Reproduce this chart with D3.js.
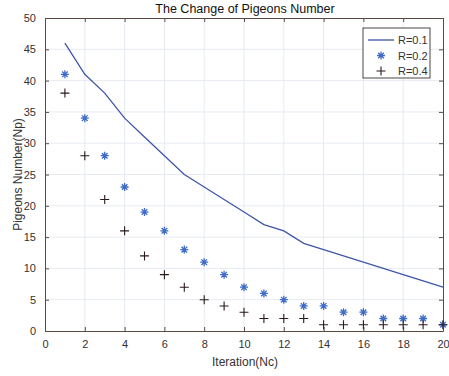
<!DOCTYPE html>
<html>
<head>
<meta charset="utf-8">
<script src="https://cdn.jsdelivr.net/npm/d3@7"></script>
<style>
  body { margin: 0; background: #fff; }
  text { font-family: "Liberation Sans", Arial, sans-serif; }
</style>
</head>
<body>
<svg id="chart" width="449" height="376"></svg>
<script>
const iterations = d3.range(1, 21);
const r01 = [46, 41, 38, 34, 31, 28, 25, 23, 21, 19, 17, 16, 14, 13, 12, 11, 10, 9, 8, 7];
const r02 = [41, 34, 28, 23, 19, 16, 13, 11, 9, 7, 6, 5, 4, 4, 3, 3, 2, 2, 2, 1];
const r04 = [38, 28, 21, 16, 12, 9, 7, 5, 4, 3, 2, 2, 2, 1, 1, 1, 1, 1, 1, 1];
const xTicks = d3.range(0, 21, 2);
const yTicks = d3.range(0, 51, 5);
const legendLabels = ['R=0.1', 'R=0.2', 'R=0.4'];

const svg = d3.select('#chart');
const margin = { top: 18, right: 6, bottom: 45, left: 45 };
const width = 449 - margin.left - margin.right;
const height = 376 - margin.top - margin.bottom;

const g = svg.append('g').attr('transform', `translate(${margin.left},${margin.top})`);

const x = d3.scaleLinear().domain([0, 20]).range([0, width]);
const y = d3.scaleLinear().domain([0, 50]).range([height, 0]);

const axisColor = '#5a4a46';
const textColor = '#333';

// grid
g.append('g').selectAll('line').data(xTicks.slice(1, -1)).enter().append('line')
  .attr('x1', d => x(d)).attr('x2', d => x(d)).attr('y1', 0).attr('y2', height)
  .attr('stroke', '#dfe6ee').attr('stroke-width', 0.8);
g.append('g').selectAll('line').data(yTicks.slice(1, -1)).enter().append('line')
  .attr('y1', d => y(d)).attr('y2', d => y(d)).attr('x1', 0).attr('x2', width)
  .attr('stroke', '#dfe6ee').attr('stroke-width', 0.8);

// axes, ticks inside
function styleAxis(sel) {
  sel.select('.domain').attr('stroke', axisColor);
  sel.selectAll('.tick line').attr('stroke', axisColor);
  sel.selectAll('text').attr('fill', textColor).style('font-size', '11px');
}
g.append('g').attr('transform', `translate(0,${height})`)
  .call(d3.axisBottom(x).tickValues(xTicks).tickSize(-4).tickSizeOuter(0).tickPadding(9))
  .call(styleAxis);
g.append('g')
  .call(d3.axisLeft(y).tickValues(yTicks).tickSize(-4).tickSizeOuter(0).tickPadding(9))
  .call(styleAxis);
g.append('g')
  .call(d3.axisTop(x).tickValues(xTicks).tickSize(-4).tickSizeOuter(0).tickFormat(''))
  .call(styleAxis);
g.append('g').attr('transform', `translate(${width},0)`)
  .call(d3.axisRight(y).tickValues(yTicks).tickSize(-4).tickSizeOuter(0).tickFormat(''))
  .call(styleAxis);

// R=0.1 line
const lineColor = '#3f56a8';
g.append('path').datum(iterations.map((d, i) => [d, r01[i]]))
  .attr('fill', 'none').attr('stroke', lineColor).attr('stroke-width', 1.3)
  .attr('d', d3.line().x(d => x(d[0])).y(d => y(d[1])));

// markers
const starColor = '#3f6cc8';
const plusColor = '#2a1a1a';
function star(sel, s) {
  sel.append('path')
    .attr('d', `M${-s},0H${s}M0,${-s}V${s}M${-s * 0.7},${-s * 0.7}L${s * 0.7},${s * 0.7}M${-s * 0.7},${s * 0.7}L${s * 0.7},${-s * 0.7}`)
    .attr('stroke', starColor).attr('stroke-width', 1.3).attr('fill', 'none');
}
function plus(sel, s) {
  sel.append('path')
    .attr('d', `M${-s},0H${s}M0,${-s}V${s}`)
    .attr('stroke', plusColor).attr('stroke-width', 1.1).attr('fill', 'none');
}
g.append('g').selectAll('g').data(iterations.map((d, i) => [d, r02[i]])).enter().append('g')
  .attr('transform', d => `translate(${x(d[0])},${y(d[1])})`)
  .each(function () { star(d3.select(this), 4); });
g.append('g').selectAll('g').data(iterations.map((d, i) => [d, r04[i]])).enter().append('g')
  .attr('transform', d => `translate(${x(d[0])},${y(d[1])})`)
  .each(function () { plus(d3.select(this), 4.5); });

// title and labels
svg.append('text').attr('x', 245).attr('y', 13).attr('text-anchor', 'middle')
  .style('font-size', '12.5px').attr('fill', '#111').text('The Change of Pigeons Number');
svg.append('text').attr('x', 245).attr('y', 366).attr('text-anchor', 'middle')
  .style('font-size', '12px').attr('fill', textColor).text('Iteration(Nc)');
svg.append('text').attr('transform', `translate(22,${margin.top + height / 2}) rotate(-90)`)
  .attr('text-anchor', 'middle').style('font-size', '12px').attr('fill', textColor)
  .text('Pigeons Number(Np)');

// legend
const legend = svg.append('g').attr('transform', 'translate(363,28)');
legend.append('rect').attr('width', 67).attr('height', 50)
  .attr('fill', '#fff').attr('stroke', '#333').attr('stroke-width', 0.9);
legendLabels.forEach((label, i) => {
  const ly = 12 + i * 15.5;
  const row = legend.append('g').attr('transform', `translate(0,${ly})`);
  if (i === 0) {
    row.append('line').attr('x1', 5).attr('x2', 31).attr('y1', 0).attr('y2', 0)
      .attr('stroke', lineColor).attr('stroke-width', 1.3);
  } else {
    const m = row.append('g').attr('transform', 'translate(18,0)');
    if (i === 1) star(m, 4); else plus(m, 4.5);
  }
  row.append('text').attr('x', 35).attr('y', 4).style('font-size', '11px')
    .attr('fill', textColor).text(label);
});
</script>
</body>
</html>
